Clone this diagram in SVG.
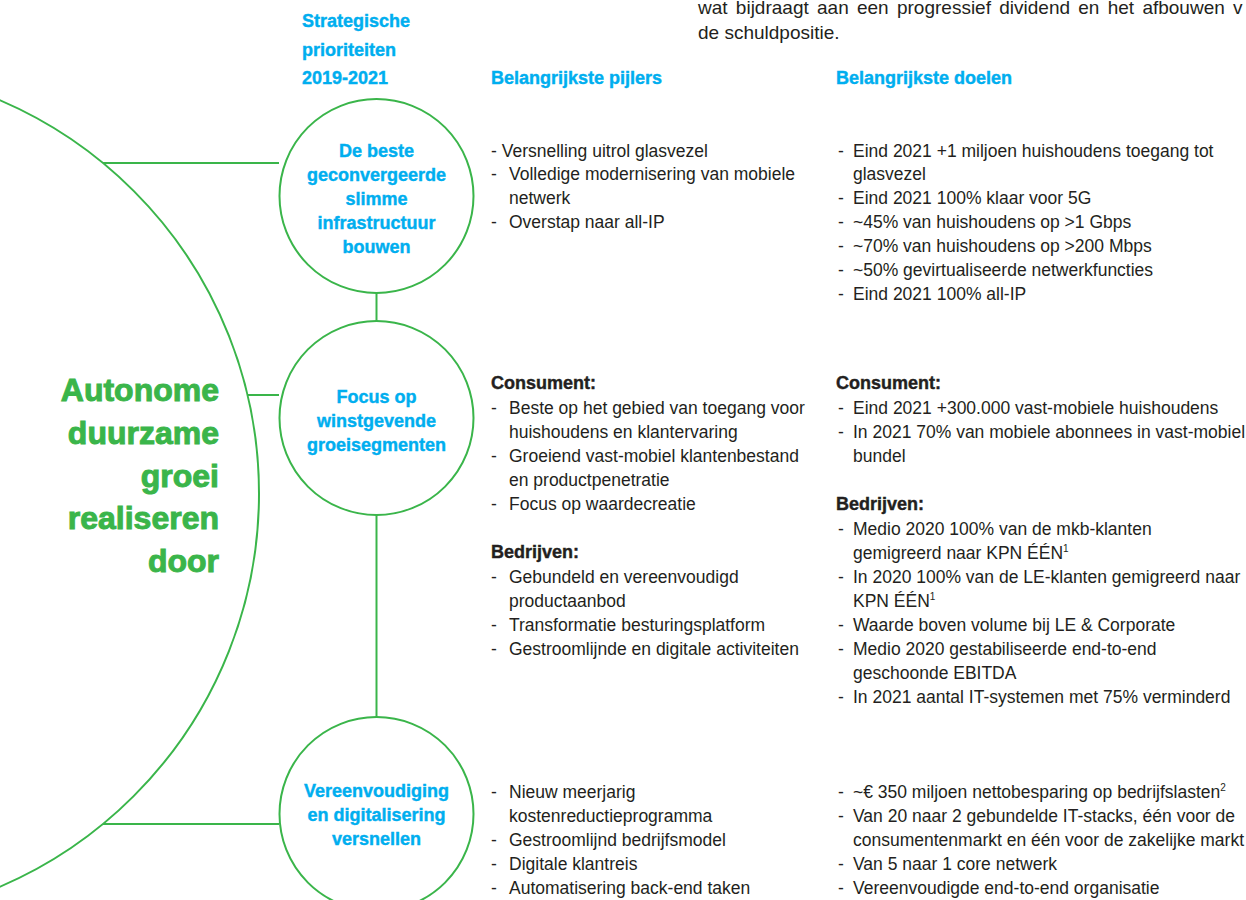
<svg xmlns="http://www.w3.org/2000/svg" width="1246" height="900" viewBox="0 0 1246 900">
<style>
.ln{fill:none;stroke:#3AB54A;stroke-width:2}
.circ{fill:#fff;stroke:#3AB54A;stroke-width:2}
.hd{font-family:"Liberation Sans",Arial,sans-serif;font-weight:bold;font-size:18px;fill:#00AEEF;stroke:#00AEEF;stroke-width:0.4}
.cl{font-family:"Liberation Sans",Arial,sans-serif;font-weight:bold;font-size:18px;fill:#00AEEF;stroke:#00AEEF;stroke-width:0.4;text-anchor:middle}
.big{font-family:"Liberation Sans",Arial,sans-serif;font-weight:bold;font-size:32px;fill:#3AB54A;stroke:#3AB54A;stroke-width:1;text-anchor:end}
.tx{font-family:"Liberation Sans",Arial,sans-serif;font-size:17.5px;fill:#231F20}
.bt{font-family:"Liberation Sans",Arial,sans-serif;font-weight:bold;font-size:18px;fill:#231F20;stroke:#231F20;stroke-width:0.4}
.top{font-family:"Liberation Sans",Arial,sans-serif;font-size:19px;fill:#231F20}
.sup{font-size:10px}
</style>
<rect width="1246" height="900" fill="#fff"/>
<text class="top" x="698" y="14" word-spacing="3">wat bijdraagt aan een progressief dividend en het afbouwen v</text>
<text class="top" x="698" y="39">de schuldpositie.</text>

<g id="headers">
<text class="hd" x="302" y="27">Strategische</text>
<text class="hd" x="302" y="56">prioriteiten</text>
<text class="hd" x="302" y="84">2019-2021</text>
<text class="hd" x="491" y="84">Belangrijkste pijlers</text>
<text class="hd" x="836" y="84">Belangrijkste doelen</text>
</g>

<g id="connectors">
<line class="ln" x1="103" y1="163" x2="279" y2="163"/>
<line class="ln" x1="248" y1="395" x2="279" y2="395"/>
<line class="ln" x1="103" y1="824" x2="279" y2="824"/>
<line class="ln" x1="376.5" y1="293" x2="376.5" y2="321"/>
<line class="ln" x1="376.5" y1="515" x2="376.5" y2="717"/>
</g>

<g id="node-main">
<circle class="ln" cx="-169" cy="493.5" r="428"/>
<text class="big" x="219" y="401">Autonome</text>
<text class="big" x="219" y="444">duurzame</text>
<text class="big" x="219" y="487">groei</text>
<text class="big" x="219" y="529">realiseren</text>
<text class="big" x="219" y="572">door</text>
</g>

<g id="node-infra">
<circle class="circ" cx="376.5" cy="196" r="97"/>
<text class="cl" x="376.5" y="157">De beste</text>
<text class="cl" x="376.5" y="181">geconvergeerde</text>
<text class="cl" x="376.5" y="205">slimme</text>
<text class="cl" x="376.5" y="229">infrastructuur</text>
<text class="cl" x="376.5" y="253">bouwen</text>
</g>

<g id="node-focus">
<circle class="circ" cx="376.5" cy="418" r="97"/>
<text class="cl" x="376.5" y="403">Focus op</text>
<text class="cl" x="376.5" y="427">winstgevende</text>
<text class="cl" x="376.5" y="451">groeisegmenten</text>
</g>

<g id="node-simplify">
<circle class="circ" cx="376.5" cy="814" r="97"/>
<text class="cl" x="376.5" y="797">Vereenvoudiging</text>
<text class="cl" x="376.5" y="821">en digitalisering</text>
<text class="cl" x="376.5" y="845">versnellen</text>
</g>

<g id="pillars-1">
<text class="tx" x="491" y="157">- Versnelling uitrol glasvezel</text>
<text class="tx" y="180"><tspan x="491">-</tspan><tspan x="509">Volledige modernisering van mobiele</tspan></text>
<text class="tx" x="509" y="204">netwerk</text>
<text class="tx" y="228"><tspan x="491">-</tspan><tspan x="509">Overstap naar all-IP</tspan></text>
</g>

<g id="goals-1">
<text class="tx" y="157"><tspan x="838">-</tspan><tspan x="853">Eind 2021 +1 miljoen huishoudens toegang tot</tspan></text>
<text class="tx" x="853" y="180">glasvezel</text>
<text class="tx" y="204"><tspan x="838">-</tspan><tspan x="853">Eind 2021 100% klaar voor 5G</tspan></text>
<text class="tx" y="228"><tspan x="838">-</tspan><tspan x="853">~45% van huishoudens op &gt;1 Gbps</tspan></text>
<text class="tx" y="252"><tspan x="838">-</tspan><tspan x="853">~70% van huishoudens op &gt;200 Mbps</tspan></text>
<text class="tx" y="276"><tspan x="838">-</tspan><tspan x="853">~50% gevirtualiseerde netwerkfuncties</tspan></text>
<text class="tx" y="300"><tspan x="838">-</tspan><tspan x="853">Eind 2021 100% all-IP</tspan></text>
</g>

<g id="pillars-2">
<text class="bt" x="491" y="389">Consument:</text>
<text class="tx" y="414"><tspan x="491">-</tspan><tspan x="509">Beste op het gebied van toegang voor</tspan></text>
<text class="tx" x="509" y="438">huishoudens en klantervaring</text>
<text class="tx" y="462"><tspan x="491">-</tspan><tspan x="509">Groeiend vast-mobiel klantenbestand</tspan></text>
<text class="tx" x="509" y="486">en productpenetratie</text>
<text class="tx" y="510"><tspan x="491">-</tspan><tspan x="509">Focus op waardecreatie</tspan></text>
<text class="bt" x="491" y="558">Bedrijven:</text>
<text class="tx" y="583"><tspan x="491">-</tspan><tspan x="509">Gebundeld en vereenvoudigd</tspan></text>
<text class="tx" x="509" y="607">productaanbod</text>
<text class="tx" y="631"><tspan x="491">-</tspan><tspan x="509">Transformatie besturingsplatform</tspan></text>
<text class="tx" y="655"><tspan x="491">-</tspan><tspan x="509">Gestroomlijnde en digitale activiteiten</tspan></text>
</g>

<g id="goals-2">
<text class="bt" x="836" y="389">Consument:</text>
<text class="tx" y="414"><tspan x="838">-</tspan><tspan x="853">Eind 2021 +300.000 vast-mobiele huishoudens</tspan></text>
<text class="tx" y="438"><tspan x="838">-</tspan><tspan x="853">In 2021 70% van mobiele abonnees in vast-mobiel</tspan></text>
<text class="tx" x="853" y="462">bundel</text>
<text class="bt" x="836" y="510">Bedrijven:</text>
<text class="tx" y="535"><tspan x="838">-</tspan><tspan x="853">Medio 2020 100% van de mkb-klanten</tspan></text>
<text class="tx" x="853" y="559">gemigreerd naar KPN ÉÉN<tspan class="sup" dy="-7">1</tspan></text>
<text class="tx" y="583"><tspan x="838">-</tspan><tspan x="853">In 2020 100% van de LE-klanten gemigreerd naar</tspan></text>
<text class="tx" x="853" y="607">KPN ÉÉN<tspan class="sup" dy="-7">1</tspan></text>
<text class="tx" y="631"><tspan x="838">-</tspan><tspan x="853">Waarde boven volume bij LE &amp; Corporate</tspan></text>
<text class="tx" y="655"><tspan x="838">-</tspan><tspan x="853">Medio 2020 gestabiliseerde end-to-end</tspan></text>
<text class="tx" x="853" y="679">geschoonde EBITDA</text>
<text class="tx" y="703"><tspan x="838">-</tspan><tspan x="853">In 2021 aantal IT-systemen met 75% verminderd</tspan></text>
</g>

<g id="pillars-3">
<text class="tx" y="798"><tspan x="491">-</tspan><tspan x="509">Nieuw meerjarig</tspan></text>
<text class="tx" x="509" y="822">kostenreductieprogramma</text>
<text class="tx" y="846"><tspan x="491">-</tspan><tspan x="509">Gestroomlijnd bedrijfsmodel</tspan></text>
<text class="tx" y="870"><tspan x="491">-</tspan><tspan x="509">Digitale klantreis</tspan></text>
<text class="tx" y="894"><tspan x="491">-</tspan><tspan x="509">Automatisering back-end taken</tspan></text>
</g>

<g id="goals-3">
<text class="tx" y="798"><tspan x="838">-</tspan><tspan x="853">~€ 350 miljoen nettobesparing op bedrijfslasten</tspan><tspan class="sup" dy="-7">2</tspan></text>
<text class="tx" y="822"><tspan x="838">-</tspan><tspan x="853">Van 20 naar 2 gebundelde IT-stacks, één voor de</tspan></text>
<text class="tx" x="853" y="846">consumentenmarkt en één voor de zakelijke markt</text>
<text class="tx" y="870"><tspan x="838">-</tspan><tspan x="853">Van 5 naar 1 core netwerk</tspan></text>
<text class="tx" y="894"><tspan x="838">-</tspan><tspan x="853">Vereenvoudigde end-to-end organisatie</tspan></text>
</g>
</svg>
